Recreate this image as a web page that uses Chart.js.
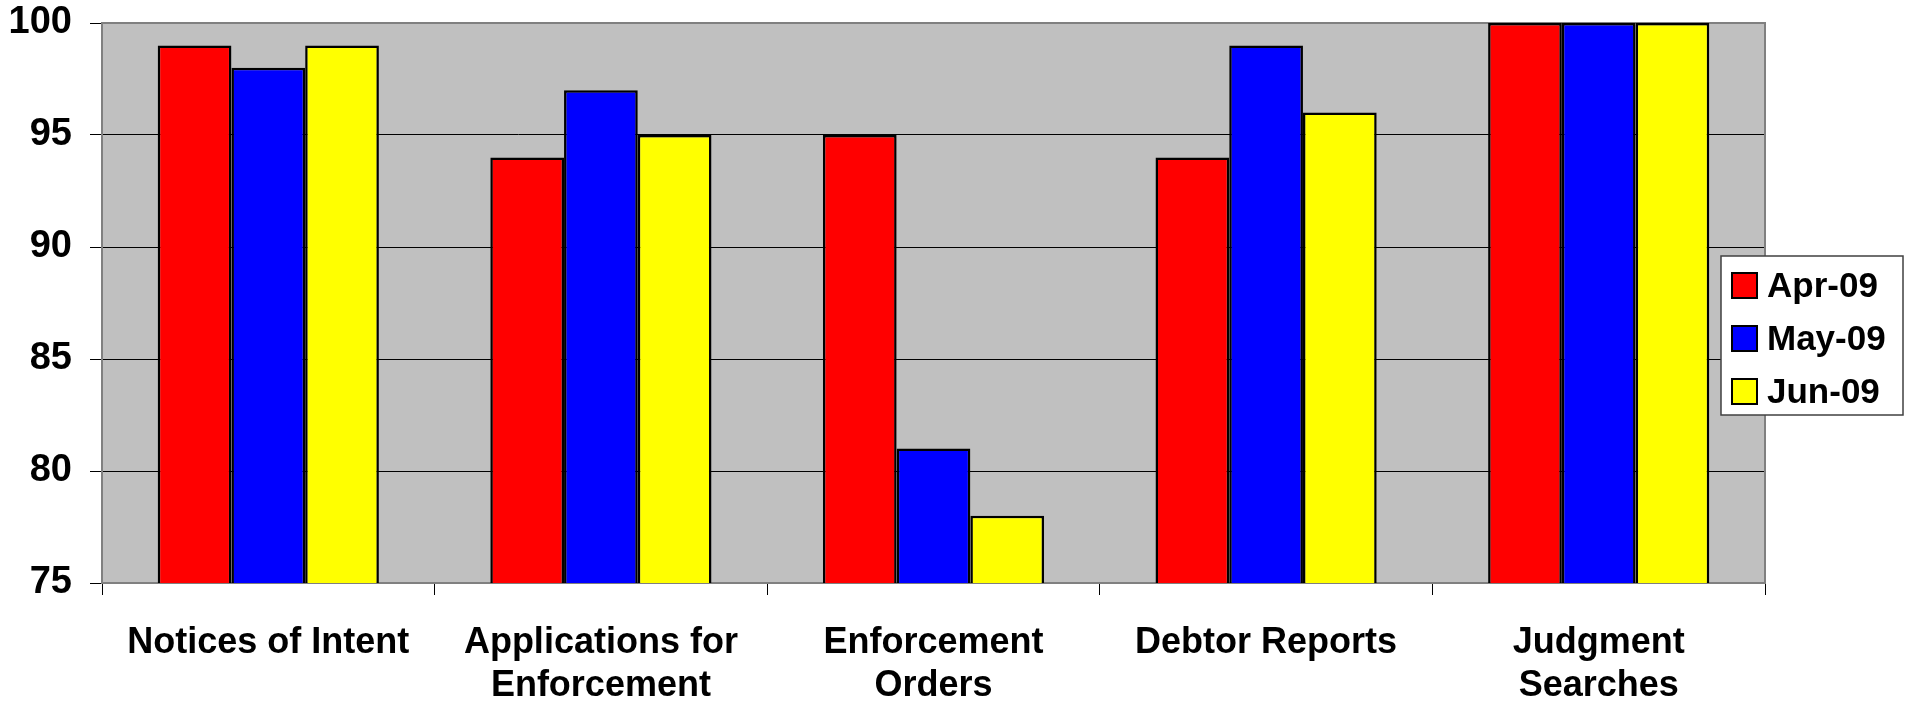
<!DOCTYPE html>
<html>
<head>
<meta charset="utf-8">
<script src="https://cdn.jsdelivr.net/npm/chart.js@4"></script>
<style>
  html, body { margin: 0; padding: 0; background: #fff; }
  #wrap { width: 1907px; height: 704px; }
</style>
</head>
<body>
<div id="wrap"><canvas id="perfChart" width="1907" height="704"></canvas></div>
<script>
// categories and series
const categories = [
    ['Notices of Intent'],
    ['Applications for', 'Enforcement'],
    ['Enforcement', 'Orders'],
    ['Debtor Reports'],
    ['Judgment', 'Searches']
];
const seriesNames = ['Apr-09', 'May-09', 'Jun-09'];
const apr09 = [99, 94, 95, 94, 100];
const may09 = [98, 97, 81, 99, 100];
const jun09 = [99, 95, 78, 96, 100];
const seriesColors = ['#FF0000', '#0000FF', '#FFFF00'];

const FONT = '"Liberation Sans", Arial, sans-serif';

// grey plot background + frame
const plotFrame = {
    id: 'plotFrame',
    beforeDraw(chart) {
        const a = chart.chartArea, ctx = chart.ctx;
        ctx.save();
        ctx.fillStyle = '#C0C0C0';
        ctx.fillRect(a.left, a.top, a.right - a.left, a.bottom - a.top);
        ctx.restore();
    },
    beforeDatasetsDraw(chart) {
        const a = chart.chartArea, ctx = chart.ctx;
        ctx.save();
        ctx.strokeStyle = '#808080';
        ctx.lineWidth = 2;
        ctx.strokeRect(a.left, a.top, a.right - a.left, a.bottom - a.top);
        ctx.restore();
    }
};

// legend box drawn over the right edge of the plot
const boxLegend = {
    id: 'boxLegend',
    afterDraw(chart) {
        const ctx = chart.ctx;
        const x = 1721, y = 256, w = 182, h = 159;
        ctx.save();
        ctx.fillStyle = '#fff';
        ctx.fillRect(x, y, w, h);
        ctx.strokeStyle = '#404040';
        ctx.lineWidth = 1.5;
        ctx.strokeRect(x, y, w, h);
        ctx.font = 'bold 35px ' + FONT;
        ctx.textBaseline = 'middle';
        chart.data.datasets.forEach((ds, i) => {
            const cy = y + 29 + i * 53;
            ctx.fillStyle = ds.backgroundColor;
            ctx.fillRect(x + 11, cy - 12, 25, 25);
            ctx.strokeStyle = '#000';
            ctx.lineWidth = 2;
            ctx.strokeRect(x + 11, cy - 12, 25, 25);
            ctx.fillStyle = '#000';
            ctx.fillText(ds.label, x + 46, cy + 2);
        });
        ctx.restore();
    }
};

const data = {
    labels: categories,
    datasets: [apr09, may09, jun09].map((vals, i) => ({
        label: seriesNames[i],
        data: vals,
        backgroundColor: seriesColors[i],
        borderColor: '#000',
        borderWidth: 2.5,
        borderSkipped: false,
        barPercentage: 1.0,
        categoryPercentage: 0.665
    }))
};

const config = {
    type: 'bar',
    data: data,
    options: {
        responsive: false,
        animation: false,
        devicePixelRatio: 1,
        layout: { padding: { top: 23, right: 142, left: 0, bottom: 0 } },
        plugins: {
            legend: { display: false },
            tooltip: { enabled: false }
        },
        scales: {
            x: {
                afterFit: (scale) => { scale.height = 121; },
                grid: {
                    offset: true,
                    drawOnChartArea: false,
                    drawTicks: true,
                    tickLength: 12,
                    color: '#000',
                    lineWidth: 1
                },
                border: { display: true, color: '#808080', width: 2 },
                ticks: {
                    color: '#000',
                    padding: 26,
                    maxRotation: 0,
                    autoSkip: false,
                    font: { family: FONT, size: 36, weight: 'bold', lineHeight: 1.2 }
                }
            },
            y: {
                min: 75,
                max: 100,
                afterFit: (scale) => {
                    scale.width = 102;
                    scale.paddingTop = 0;
                    scale.paddingBottom = 0;
                },
                grid: {
                    color: '#000',
                    lineWidth: 1,
                    tickLength: 12
                },
                border: { display: true, color: '#808080', width: 2 },
                ticks: {
                    stepSize: 5,
                    color: '#000',
                    padding: 18,
                    font: { family: FONT, size: 38, weight: 'bold' }
                }
            }
        }
    },
    plugins: [plotFrame, boxLegend]
};

const perfChart = new Chart(document.getElementById('perfChart'), config);
</script>
</body>
</html>
